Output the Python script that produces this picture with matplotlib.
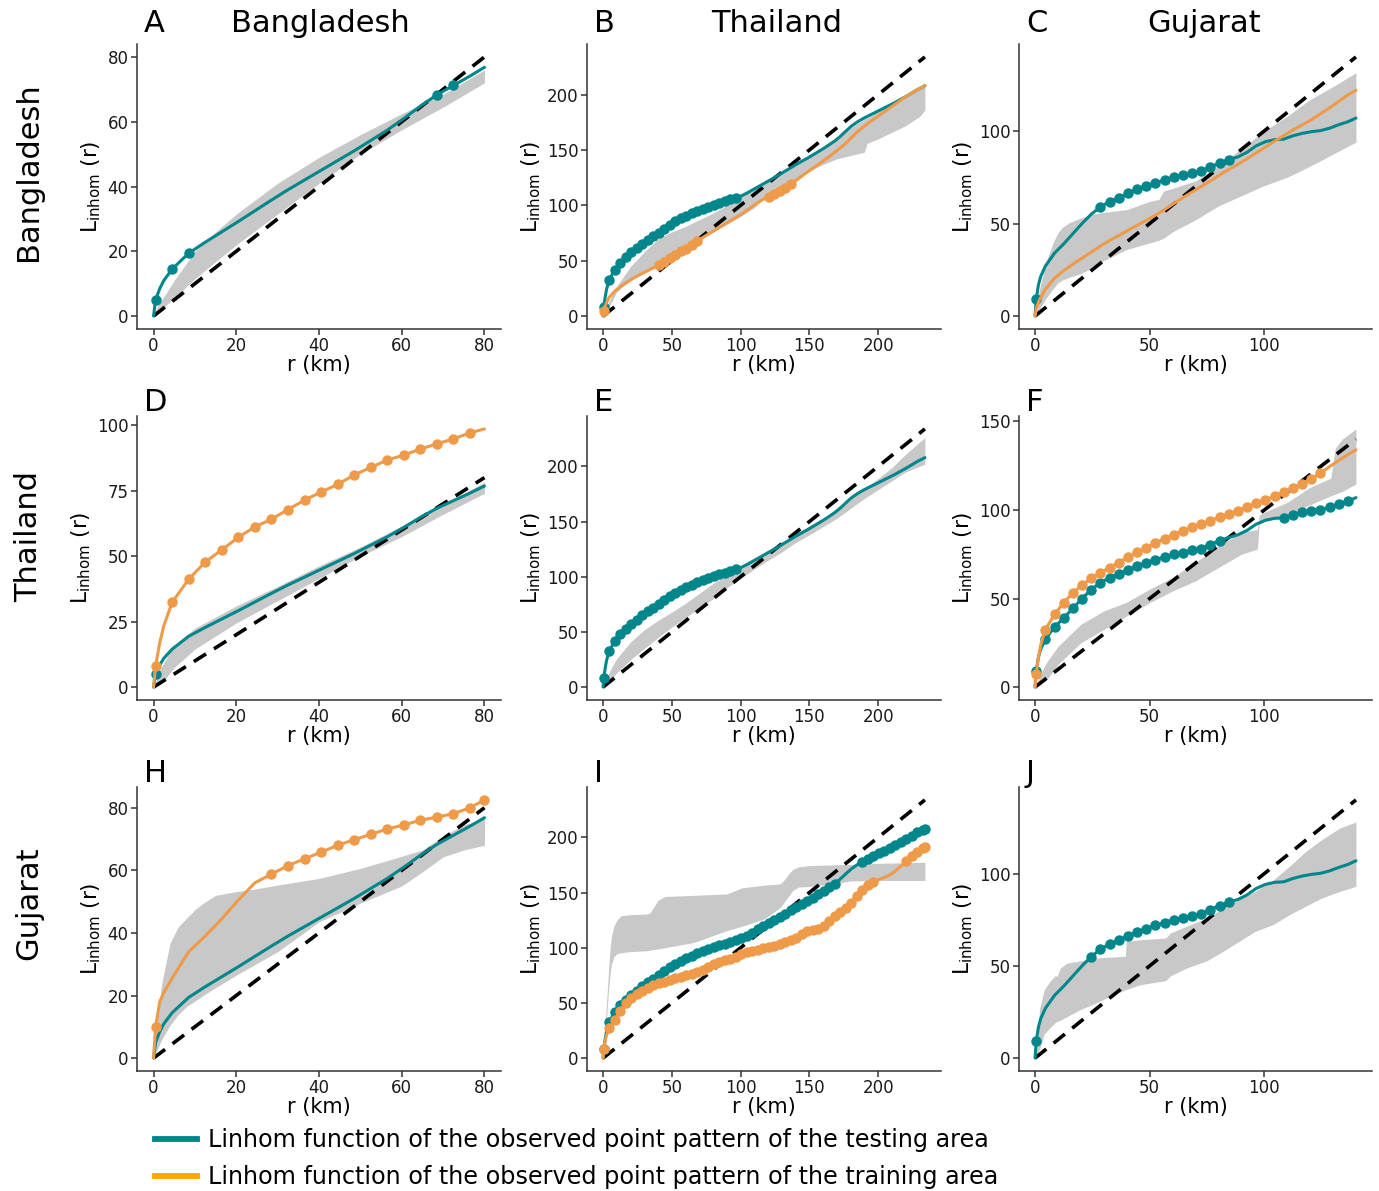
import numpy as np
import matplotlib.pyplot as plt
from matplotlib.lines import Line2D

W, H = 1379, 1191

def r_grid(rmax):
    return np.concatenate([[0, 0.5, 1.5, 2.5], np.arange(4.5, rmax, 4), [rmax]])

r80 = r_grid(80)
r140 = r_grid(140)
r234 = r_grid(234)

# ---- observed Linhom of the testing areas (one per column) ----
test_bgd = [0, 5, 8.5, 11,
            14.5, 19.4, 22.8, 26, 29.2, 32.5, 35.8, 39, 42, 45,
            48, 51, 54.2, 57.4, 61, 64.8, 68.3, 71.2, 74.1, 76.8]
test_tha = [0, 8, 17, 24,
            33, 41.6, 47.8, 53, 57.6, 61.2, 65.3, 69, 72, 75.4,
            79, 82.5, 85.5, 88.2, 90.6, 92.8, 94.8, 96.8, 98.8, 100.6,
            102.2, 103.7, 105.3, 107, 108.5, 111, 113.8, 116.6, 119.4, 122.2,
            125, 128, 131, 134, 137, 139.8, 142.5, 145.5, 148.5, 151.5,
            154.8, 158.2, 162.3, 167, 171.5, 175, 178, 180.6, 183, 185.5,
            188, 190.5, 193, 195.8, 198.5, 201.5, 204.5, 207, 208]
test_guj = [0, 9, 17, 21.5,
            27, 34, 39, 44.5, 50, 55, 59, 61.8, 64, 66.3,
            68.5, 70.2, 72, 73.5, 74.9, 76, 77.2, 78.2, 80.5, 82.7,
            84.5, 86, 88.5, 92, 94.2, 95.3, 95.6, 97.4, 98.7, 99.6,
            100.2, 101.5, 103.4, 105, 107]

# ---- observed Linhom of the training areas ----
train_B = [0, 5, 9, 12,
           17, 22.5, 26.5, 30, 33, 36, 38.5, 41, 43.5, 46,
           49, 52, 55, 58.5, 61, 64.5, 68, 71, 74, 77,
           80, 83, 86, 89, 92, 95.5, 99, 102.5, 105.5, 107.5,
           110, 113, 116, 119.5, 123, 126.5, 130, 133.5, 137, 140.5,
           144, 148, 152, 156, 161, 166, 170, 174, 177.5, 181,
           184.5, 188, 191.5, 195, 198.5, 201.5, 204.5, 207, 208]
train_C = [0, 4, 7.5, 10,
           14.5, 20.5, 24.5, 28, 31.3, 34.5, 37.8, 40.8, 43.5, 46.3,
           49, 51.7, 54.5, 57.5, 60.8, 64, 67, 70, 73, 76.2,
           79.2, 82, 85, 88.2, 91.3, 94.5, 97.5, 100.5, 103.3, 106,
           109.3, 112.5, 116, 119.5, 122]
train_D = [0, 8, 17, 23.5,
           32.4, 41.2, 47.8, 52.4, 57.2, 61.2, 64.1, 67.8, 71.4, 74.5,
           77.4, 81, 83.9, 86.7, 88.6, 90.9, 92.9, 94.8, 97.1, 98.6]
train_F = [0, 7.5, 17, 24,
           32.5, 41, 47.7, 53.2, 57.6, 61.4, 64.5, 67.5, 70.3, 73.5,
           76.3, 78.8, 81.3, 83.8, 86, 88.2, 90.2, 92.1, 94, 95.9,
           97.8, 99.7, 101.6, 103.7, 105.8, 107.9, 110.1, 112.5, 114.9, 117.6,
           120.8, 124.5, 128, 131.3, 134]
train_H = [0, 10, 18, 21,
           25.5, 34, 39, 44.5, 50.5, 56, 58.8, 61.5, 63.7, 65.8,
           68, 69.8, 71.5, 73.2, 74.5, 76, 77, 78.1, 80, 82.5]
train_I = [0, 8, 16, 21,
           27, 34.5, 43, 49.5, 54.2, 58.2, 61.1, 63.6, 65.8, 67.7,
           69.3, 70.7, 72.2, 73.5, 74.9, 76.4, 78.1, 80, 82.6, 85.2,
           87.1, 88.5, 90, 92, 94, 95.9, 97.2, 98.3, 99.6, 100.5,
           101.6, 103, 105, 106.8, 109, 112.2, 114.8, 116, 117, 120,
           124.5, 129, 132.5, 136.3, 140.8, 147.2, 152.8, 156.5, 159.5, 161.8,
           163.7, 166, 169.5, 174, 178.3, 183, 187, 190.3, 191.5]

# ---- simulation envelopes (lo / hi) ----
env_A_r = [0, 1, 3, 5, 10, 15, 20, 30, 40, 50, 60, 70, 80]
env_A_lo = [0, 1.2, 3.3, 5.5, 11.5, 16.8, 22, 31.5, 41, 50, 57.5, 64.5, 72]
env_A_hi = [0, 3, 7, 11, 20, 26, 31.5, 41, 49, 56, 62.5, 68.5, 76]

env_B_r = [0, 2, 5, 10, 20, 30, 40, 50, 60, 70, 80, 90, 100, 110, 120, 130, 140,
           150, 160, 170, 180, 190, 192, 200, 210, 220, 230, 234]
env_B_lo = [0, 3, 10, 22, 32.5, 39, 49, 55, 62, 69.5, 76, 83, 90, 98, 110, 117, 121,
            131, 137, 142, 145, 148, 156, 160, 166, 172, 180, 186]
env_B_hi = [0, 6, 15, 27, 45, 58, 70, 76, 81, 87, 93, 100, 108, 115, 123, 131, 138,
            145, 153, 161, 170, 178, 179, 185, 192, 199, 206, 210]

env_C_r = [0, 1, 2, 5, 8, 10, 12, 15, 20, 25, 30, 40, 50, 54, 56, 60, 70, 80, 90,
           100, 110, 120, 130, 140]
env_C_lo = [0, 2, 4, 10, 15, 18, 19.5, 21, 23, 26, 30, 36, 39.5, 41, 42, 45.5, 52,
            59.5, 65, 70.5, 75, 81, 87.5, 94]
env_C_hi = [0, 8, 15, 30, 40, 45, 48, 50.5, 53, 55, 56, 57.5, 62, 63, 67.5, 69, 73,
            81, 90.5, 100, 108, 117, 124, 131.5]

env_D_r = [0, 1, 2, 5, 10, 20, 30, 40, 50, 60, 70, 80]
env_D_lo = [0, 0.5, 1.5, 7.5, 14.5, 24.5, 33, 41.5, 50, 57.5, 66, 74]
env_D_hi = [0, 4, 8, 16, 22.5, 31, 38.5, 46.3, 53.5, 61.5, 69.5, 78.3]

env_E_r = [0, 2, 5, 10, 20, 30, 40, 50, 60, 70, 80, 90, 100, 110, 120, 130, 140,
           150, 160, 170, 180, 190, 200, 210, 220, 230, 234]
env_E_lo = [0, 2, 6, 13, 25, 35, 45, 54.5, 63, 72, 80, 90, 98.5, 107, 115, 122.5,
            131, 138, 145.5, 153, 162, 171, 179, 187, 195, 200, 202]
env_E_hi = [0, 6, 15, 26, 41, 52, 60.5, 68, 76, 85, 94, 101.5, 108.5, 116, 124,
            131.5, 139, 146, 153, 160, 171, 180, 189, 199, 211, 222, 226]

env_F_r = [0, 1, 3, 5, 10, 20, 30, 40, 50, 60, 70, 80, 90, 97, 97.8, 100, 110, 120,
           129, 131, 134, 140]
env_F_lo = [0, 0.5, 2, 4, 12.8, 25, 32.6, 40.2, 47.7, 54.3, 60, 67.5, 75, 78, 92,
            93.5, 97.5, 103, 108, 109, 110.5, 114.7]
env_F_hi = [0, 3, 9, 14, 23, 35.5, 43, 48, 55.3, 62, 70.4, 79.8, 87.4, 89, 97, 98.7,
            104.3, 112.8, 118, 135, 140, 145.8]

env_H_r = [0, 1, 2, 4, 6, 8, 10, 12, 15, 20, 24, 30, 40, 50, 60, 65, 70, 75, 80]
env_H_lo = [0, 3, 6, 10.5, 14, 16.5, 18.2, 20, 22.5, 26.5, 29.5, 34, 43.5, 49.5, 55,
            59.5, 64.3, 66.5, 68]
env_H_hi = [0, 14, 24, 36.8, 42, 44.7, 47.4, 49.5, 52, 53.2, 53.9, 55.3, 57.4, 60.6,
            64.5, 66.5, 71, 74.5, 76.5]

env_I_r = [0, 1, 2, 3, 4, 5, 6, 8, 10, 13, 20, 32, 34, 40, 45, 66, 90, 101, 117, 129,
           132, 135, 138, 142, 150, 157, 165, 180, 200, 234]
env_I_lo = [0, 8, 25, 45, 62, 75, 85, 92, 94.5, 95.5, 96.5, 97.3, 97.8, 99, 100,
            104.8, 115.5, 119.5, 126, 136.6, 142, 147, 152, 155, 155.5, 156.5, 157.5,
            160.5, 161, 161]
env_I_hi = [0, 15, 40, 60, 80, 98, 110, 120, 125, 129, 130, 130.6, 131.5, 143, 146.5,
            147.5, 148.8, 154.3, 156.7, 157.9, 162, 167, 171, 173.3, 174.5, 174.8, 175,
            175.5, 176.5, 177.5]

env_J_r = [0, 1, 2, 4, 6.5, 9, 9.5, 11, 14, 20, 25, 31, 39.4, 39.8, 46, 57, 59, 66,
           75, 82, 89, 96, 104, 111, 118, 125, 133, 140]
env_J_lo = [0, 2.5, 5, 13, 16.5, 19.5, 19.8, 20.5, 22.5, 26.5, 29, 32.5, 37, 37.2,
            39.8, 42, 44.5, 48.8, 52.8, 57.9, 63.3, 68.7, 72.5, 77.8, 82.3, 86.8, 90.4, 93.1]
env_J_hi = [0, 10, 27, 37, 41.6, 45, 44, 48.8, 51.5, 52.8, 54.2, 54.6, 55.2, 63.3,
            64.2, 65.1, 67.8, 71.4, 76, 81.4, 85.9, 90.4, 96.7, 104, 112, 118.4, 124.8, 128]

areas = ["Bangladesh", "Thailand", "Gujarat"]
legend_labels = ["Linhom function of the observed point pattern of the testing area",
                 "Linhom function of the observed point pattern of the training area"]

TEAL = "#00868B"
ORANGE = "#EE9A49"
ORANGE_KEY = "#FFA500"
BAND = "#C8C8C8"

# panel: letter, row, col, r grid, testing curve, env, training curve,
#        r-ranges with significant points (testing, training), x ticks, y ticks
panels = [
    ("A", 0, 0, r80, test_bgd, (env_A_r, env_A_lo, env_A_hi), None,
     [(0.5, 8.5), (68.5, 72.5)], [], [0, 20, 40, 60, 80], [0, 20, 40, 60, 80]),
    ("B", 0, 1, r234, test_tha, (env_B_r, env_B_lo, env_B_hi), train_B,
     [(0.5, 96.5)], [(0.5, 0.5), (40.5, 68.5), (120.5, 136.5)],
     [0, 50, 100, 150, 200], [0, 50, 100, 150, 200]),
    ("C", 0, 2, r140, test_guj, (env_C_r, env_C_lo, env_C_hi), train_C,
     [(0.5, 0.5), (28.5, 84.5)], [], [0, 50, 100], [0, 50, 100]),
    ("D", 1, 0, r80, test_bgd, (env_D_r, env_D_lo, env_D_hi), train_D,
     [(0.5, 0.5)], [(0.5, 76.5)], [0, 20, 40, 60, 80], [0, 25, 50, 75, 100]),
    ("E", 1, 1, r234, test_tha, (env_E_r, env_E_lo, env_E_hi), None,
     [(0.5, 96.5)], [], [0, 50, 100, 150, 200], [0, 50, 100, 150, 200]),
    ("F", 1, 2, r140, test_guj, (env_F_r, env_F_lo, env_F_hi), train_F,
     [(0.5, 80.5), (108.5, 136.5)], [(0.5, 124.5)], [0, 50, 100], [0, 50, 100, 150]),
    ("H", 2, 0, r80, test_bgd, (env_H_r, env_H_lo, env_H_hi), train_H,
     [], [(0.5, 0.5), (28.5, 80)], [0, 20, 40, 60, 80], [0, 20, 40, 60, 80]),
    ("I", 2, 1, r234, test_tha, (env_I_r, env_I_lo, env_I_hi), train_I,
     [(0.5, 168.5), (188.5, 234)], [(0.5, 196.5), (220.5, 234)],
     [0, 50, 100, 150, 200], [0, 50, 100, 150, 200]),
    ("J", 2, 2, r140, test_guj, (env_J_r, env_J_lo, env_J_hi), None,
     [(0.5, 0.5), (24.5, 84.5)], [], [0, 50, 100], [0, 50, 100]),
]

# axes boxes in pixels
col_left = [137, 587, 1019]
col_right = [501, 941, 1372]
row_top = [44, 416, 787]
row_bot = [329, 700, 1071]
letter_base = [32, 411, 782]


def marks(r, ranges):
    on = np.isclose((r - 0.5) % 4, 0) | (r == r[-1])
    m = np.zeros(len(r), bool)
    for a, b in ranges:
        m |= (r >= a - 1e-9) & (r <= b + 1e-9)
    return m & on


def curve(ax, r, v, color, ranges, z):
    v = np.asarray(v, float)
    ax.plot(r, v, color=color, lw=2.2, zorder=z, solid_capstyle="round")
    m = marks(r, ranges)
    ax.plot(r[m], v[m], "o", color=color, ms=6.5, mec=color, zorder=z)


fig = plt.figure(figsize=(W / 100, H / 100), dpi=100)

for letter, row, col, r, test, env, train, tmarks, omarks, xt, yt in panels:
    l, rt = col_left[col], col_right[col]
    t, b = row_top[row], row_bot[row]
    ax = fig.add_axes([l / W, 1 - b / H, (rt - l) / W, (b - t) / H])
    er, lo, hi = env
    ax.fill_between(er, lo, hi, color=BAND, lw=0, zorder=1)
    ax.plot([0, r[-1]], [0, r[-1]], color="black", lw=2.6, dashes=(4, 2.6), zorder=2)
    curve(ax, r, test, TEAL, tmarks, 3)
    if train is not None:
        curve(ax, r, train, ORANGE, omarks, 4)
    ax.set_xticks(xt)
    ax.set_yticks(yt)
    for s in ["top", "right"]:
        ax.spines[s].set_visible(False)
    for s in ["left", "bottom"]:
        ax.spines[s].set_color("#333333")
        ax.spines[s].set_linewidth(1.1)
    ax.tick_params(length=4, width=1.1, color="#333333", labelsize=12,
                   labelcolor="#1a1a1a", pad=2)
    ax.set_xlabel("r (km)", fontsize=15, labelpad=0)
    ax.set_ylabel(r"$\mathregular{L_{inhom}}$ (r)", fontsize=15.5, labelpad=3)
    fig.text((l + 7) / W, 1 - letter_base[row] / H, letter, fontsize=22,
             ha="left", va="baseline")

# column titles
for x, name in zip([320, 777, 1204], areas):
    fig.text(x / W, 1 - 32 / H, name, fontsize=22, ha="center", va="baseline")

# row titles
for y, name in zip([172, 537, 903], areas):
    fig.text(37 / W, 1 - y / H, name, fontsize=22, rotation=90, ha="center",
             va="baseline", rotation_mode="anchor")

handles = [Line2D([], [], color=TEAL, lw=4.2), Line2D([], [], color=ORANGE_KEY, lw=4.2)]
fig.legend(handles, legend_labels, loc="upper left",
           bbox_to_anchor=(155 / W, 1 - 1128 / H), frameon=False, fontsize=17.2,
           handlelength=1.75, handletextpad=0.45, labelspacing=0.55,
           borderpad=0, borderaxespad=0)

fig.savefig("out.png", dpi=100)
